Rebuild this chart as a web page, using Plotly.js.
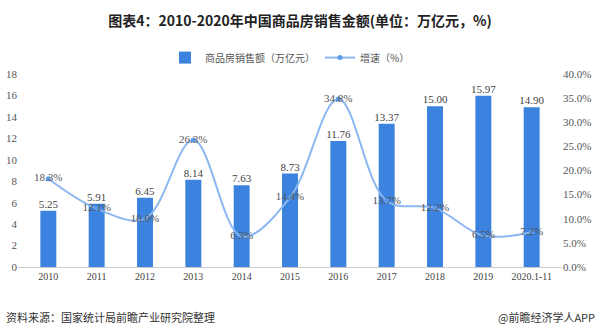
<!DOCTYPE html>
<html><head><meta charset="utf-8">
<script src="https://cdn.plot.ly/plotly-3.0.1.min.js"></script>
<style>body{margin:0;background:#fff}#c{width:600px;height:327px}</style>
</head><body><div id="c"></div>
<script>
const categories = ['2010','2011','2012','2013','2014','2015','2016','2017','2018','2019','2020.1-11'];
const sales = [5.25,5.91,6.45,8.14,7.63,8.73,11.76,13.37,15.00,15.97,14.90];
const growth = [18.3,12.1,10.0,26.3,6.3,14.4,34.8,13.7,12.2,6.5,7.2];
const salesName = '商品房销售额（万亿元）';
const growthName = '增速（%）';

const serif = 'Liberation Serif, DejaVu Serif, serif';
const traces = [
  {type:'bar', x:categories, y:sales, name:salesName, marker:{color:'#3b83de'}, width:0.33},
  {type:'scatter', mode:'text', x:categories, y:sales, showlegend:false, hoverinfo:'skip',
   text:sales.map(v=>v.toFixed(2)), textposition:'top center', cliponaxis:false,
   textfont:{family:serif,size:11,color:'#444'}},
  {type:'scatter', mode:'lines+markers+text', x:categories, y:growth, yaxis:'y2', name:growthName,
   line:{color:'#8cb8f2',width:2,shape:'spline',smoothing:1}, marker:{size:5,color:'#5b9bea'},
   text:growth.map(v=>v.toFixed(1)+'%'), textposition:'middle center', cliponaxis:false,
   textfont:{family:serif,size:11,color:'#555'}}
];
const layout = {
  width:600, height:327, margin:{l:18,r:38,t:74,b:60},
  paper_bgcolor:'#fff', plot_bgcolor:'#fff', bargap:0.67,
  title:{text:'<b>图表4：2010-2020年中国商品房销售金额(单位：万亿元，%)</b>', x:0.5, xanchor:'center', y:0.935, yanchor:'middle',
    font:{family:'Noto Sans CJK SC, sans-serif', size:14, color:'#222'}},
  showlegend:true,
  legend:{orientation:'h', x:0.5, xanchor:'center', y:1.085, yanchor:'middle', font:{family:'Noto Sans CJK SC, sans-serif', size:10, color:'#555'}},
  xaxis:{type:'category', showgrid:false, showline:true, linecolor:'#ccc', ticks:'', tickfont:{family:serif,size:10,color:'#444'}},
  yaxis:{range:[0,18], dtick:2, showgrid:false, zeroline:false, showline:false, ticks:'', tickfont:{family:serif,size:11,color:'#555'}},
  yaxis2:{range:[0,40], dtick:5, overlaying:'y', side:'right', showgrid:false, zeroline:false, ticks:'', ticksuffix:'%', tickformat:'.1f', tickfont:{family:serif,size:11,color:'#555'}},
  annotations:[
    {text:'资料来源：国家统计局前瞻产业研究院整理', xref:'paper', yref:'paper', x:-0.025, xanchor:'left', y:-0.26, yanchor:'middle', showarrow:false, font:{family:'Noto Sans CJK SC, sans-serif', size:11, color:'#333'}},
    {text:'@前瞻经济学人APP', xref:'paper', yref:'paper', x:1.065, xanchor:'right', y:-0.26, yanchor:'middle', showarrow:false, font:{family:'Noto Sans CJK SC, sans-serif', size:11, color:'#333'}}
  ]
};
Plotly.newPlot('c', traces, layout, {displayModeBar:false, staticPlot:true});
</script></body></html>
